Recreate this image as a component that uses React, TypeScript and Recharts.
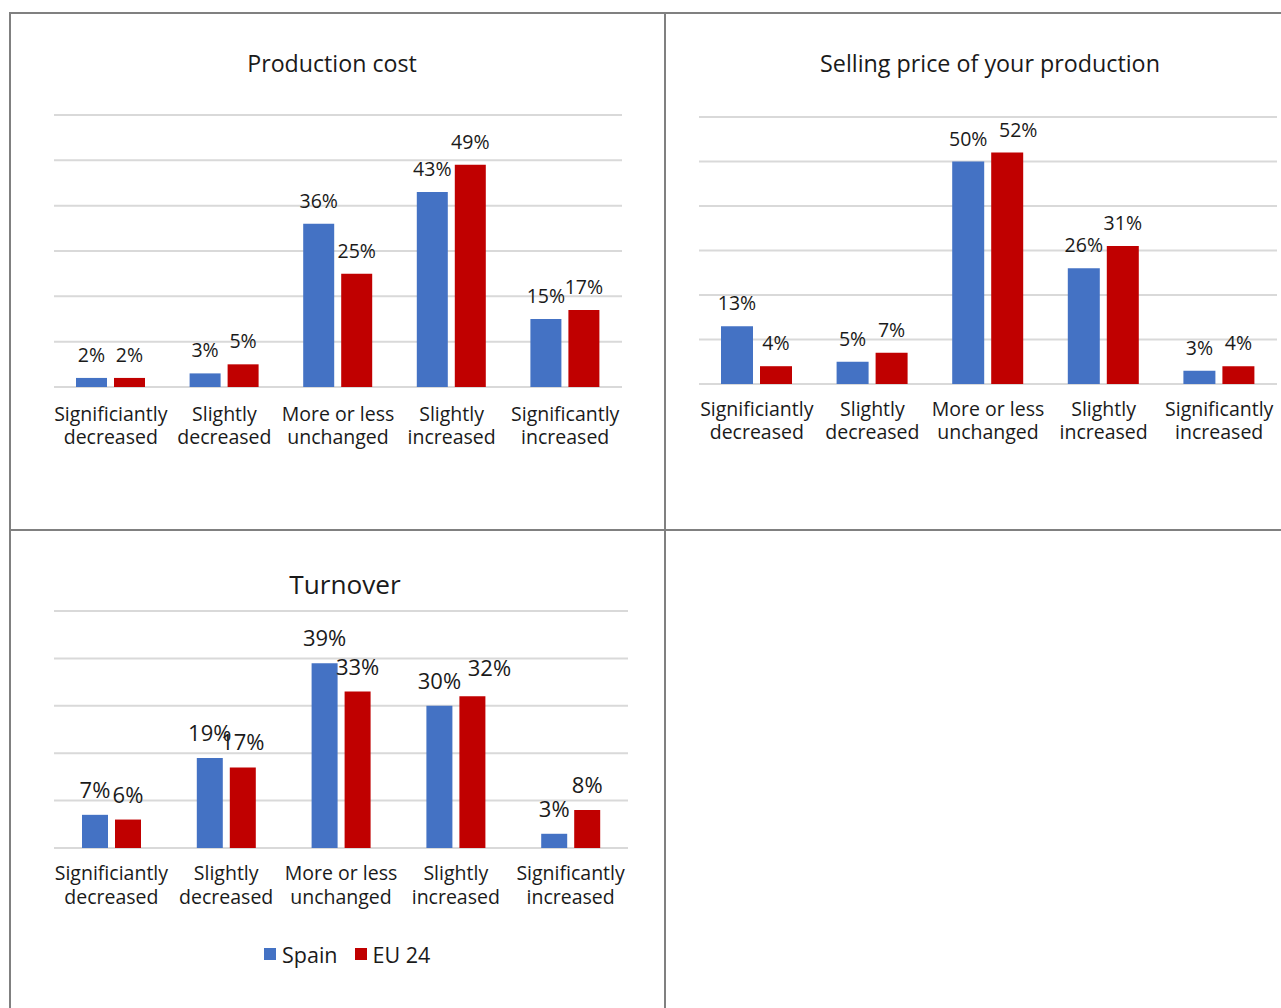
import React from 'react'
import { BarChart, Bar, XAxis, YAxis, CartesianGrid, LabelList, Legend } from 'recharts'

const categories = [
  'Significiantly\ndecreased',
  'Slightly\ndecreased',
  'More or less\nunchanged',
  'Slightly\nincreased',
  'Significantly\nincreased',
]

const costSpain = [2, 3, 36, 43, 15]
const costEU = [2, 5, 25, 49, 17]

const priceSpain = [13, 5, 50, 26, 3]
const priceEU = [4, 7, 52, 31, 4]

const turnoverSpain = [7, 19, 39, 30, 3]
const turnoverEU = [6, 17, 33, 32, 8]

const ticks60 = [0, 10, 20, 30, 40, 50, 60]
const ticks50 = [0, 10, 20, 30, 40, 50]

// a few EU labels are pushed aside so they don't sit on the Spain label
const noShift = [[0, 0], [0, 0], [0, 0], [0, 0], [0, 0]]
const priceEUShift = [[0, 0], [0, 0], [11, 0], [0, 0], [0, 0]]
const turnoverEUShift = [[0, 0], [0, 0], [0, 0], [17, -3], [0, 0]]

const BLUE = '#4472C4'
const RED = '#C00000'
const GRID = '#d9d9d9'
const BORDER = '#808080'
const TEXT = '#1a1a1a'
const FONT = '"Open Sans", "Noto Sans", sans-serif'

const toRows = (spain: number[], eu: number[]) =>
  categories.map((name, i) => ({ name, spain: spain[i], eu: eu[i] }))

interface TickProps {
  x?: number
  y?: number
  payload?: { value: string }
  first: number
  lineGap: number
  fontSize: number
}

// two-line category label, one <text> per line
const CategoryTick = ({ x = 0, y = 0, payload, first, lineGap, fontSize }: TickProps) => {
  const lines = (payload?.value ?? '').split('\n')
  return (
    <g>
      {lines.map((l, i) => (
        <text
          key={i}
          x={x}
          y={y + first + i * lineGap}
          textAnchor="middle"
          fill={TEXT}
          fontSize={fontSize}
          fontFamily={FONT}
        >
          {l}
        </text>
      ))}
    </g>
  )
}

const makeValueLabel = (fontSize: number, offset: number, shift: number[][]) => (props: any) => {
  const { x, y, width, value, index } = props
  const [dx, dy] = shift[index] ?? [0, 0]
  return (
    <text
      x={Number(x) + Number(width) / 2 + dx}
      y={Number(y) - offset + dy}
      textAnchor="middle"
      fill={TEXT}
      fontSize={fontSize}
      fontFamily={FONT}
    >
      {`${value}%`}
    </text>
  )
}

interface PanelProps {
  title: string
  titleX: number
  titleY: number
  titleSize: number
  left: number
  top: number
  width: number
  height: number
  margin: { top: number; right: number; bottom: number; left: number }
  spain: number[]
  eu: number[]
  euShift: number[][]
  max: number
  ticks: number[]
  gap: number
  labelSize: number
  labelOffset: number
  tickFirst: number
  tickGap: number
  tickSize: number
  legend?: boolean
}

const LegendContent = () => (
  <div
    style={{
      display: 'flex',
      alignItems: 'center',
      fontFamily: FONT,
      fontSize: 21.5,
      color: TEXT,
      height: 28,
    }}
  >
    <span style={{ width: 12, height: 12, background: BLUE, marginRight: 6 }} />
    <span style={{ marginRight: 17 }}>Spain</span>
    <span style={{ width: 12, height: 12, background: RED, marginRight: 6 }} />
    <span>EU 24</span>
  </div>
)

const Panel = (p: PanelProps) => (
  <>
    <div
      style={{
        position: 'absolute',
        left: p.titleX - 300,
        width: 600,
        top: p.titleY - 17,
        lineHeight: '32px',
        textAlign: 'center',
        fontFamily: FONT,
        fontSize: p.titleSize,
        color: TEXT,
      }}
    >
      {p.title}
    </div>
    <div style={{ position: 'absolute', left: p.left, top: p.top }}>
      <BarChart
        width={p.width}
        height={p.height}
        data={toRows(p.spain, p.eu)}
        margin={p.margin}
        barCategoryGap={p.gap}
        barGap={7}
      >
        <CartesianGrid vertical={false} stroke={GRID} strokeWidth={2} />
        <YAxis hide domain={[0, p.max]} ticks={p.ticks} />
        <XAxis
          dataKey="name"
          height={60}
          axisLine={false}
          tickLine={false}
          tickSize={0}
          tickMargin={0}
          interval={0}
          tick={<CategoryTick first={p.tickFirst} lineGap={p.tickGap} fontSize={p.tickSize} />}
        />
        <Bar dataKey="spain" name="Spain" fill={BLUE} isAnimationActive={false}>
          <LabelList dataKey="spain" content={makeValueLabel(p.labelSize, p.labelOffset, noShift)} />
        </Bar>
        <Bar dataKey="eu" name="EU 24" fill={RED} isAnimationActive={false}>
          <LabelList dataKey="eu" content={makeValueLabel(p.labelSize, p.labelOffset, p.euShift)} />
        </Bar>
        {p.legend && (
          <Legend
            layout="horizontal"
            verticalAlign="middle"
            align="center"
            content={<LegendContent />}
            wrapperStyle={{ top: 410, left: 254, width: 200, height: 28 }}
          />
        )}
      </BarChart>
    </div>
  </>
)

const line = (left: number, top: number, width: number, height: number) => (
  <div style={{ position: 'absolute', left, top, width, height, background: BORDER }} />
)

export default function App() {
  return (
    <div
      style={{
        position: 'absolute',
        left: 0,
        top: 0,
        width: 1281,
        height: 1008,
        background: '#fff',
        overflow: 'hidden',
        fontFamily: FONT,
      }}
    >
      {line(9, 12, 1272, 2)}
      {line(9, 12, 2, 996)}
      {line(664, 12, 2, 996)}
      {line(9, 529, 1272, 2)}

      <Panel
        title="Production cost"
        titleX={332}
        titleY={64}
        titleSize={23.2}
        left={10}
        top={13}
        width={655}
        height={517}
        margin={{ top: 102, right: 43, bottom: 83, left: 44 }}
        spain={costSpain}
        eu={costEU}
        euShift={noShift}
        max={60}
        ticks={ticks60}
        gap={22}
        labelSize={19.5}
        labelOffset={16}
        tickFirst={34}
        tickGap={22.5}
        tickSize={19.5}
      />
      <Panel
        title="Selling price of your production"
        titleX={990}
        titleY={64}
        titleSize={23.3}
        left={665}
        top={13}
        width={616}
        height={517}
        margin={{ top: 104, right: 4, bottom: 86, left: 34 }}
        spain={priceSpain}
        eu={priceEU}
        euShift={priceEUShift}
        max={60}
        ticks={ticks60}
        gap={22}
        labelSize={19.5}
        labelOffset={16}
        tickFirst={32}
        tickGap={23}
        tickSize={19.5}
      />
      <Panel
        title="Turnover"
        titleX={345}
        titleY={585}
        titleSize={26.2}
        left={10}
        top={530}
        width={655}
        height={478}
        margin={{ top: 81, right: 37, bottom: 100, left: 44 }}
        spain={turnoverSpain}
        eu={turnoverEU}
        euShift={turnoverEUShift}
        max={50}
        ticks={ticks50}
        gap={28}
        labelSize={22}
        labelOffset={17}
        tickFirst={32}
        tickGap={24}
        tickSize={19.5}
        legend
      />
    </div>
  )
}
